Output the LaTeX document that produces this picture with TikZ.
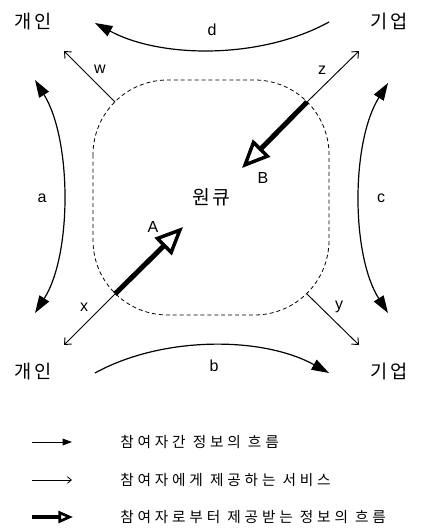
\documentclass[tikz,border=0pt]{standalone}
\usepackage{fontspec}
\setmainfont{Liberation Sans}
\newfontfamily\kr[LetterSpace=12]{Noto Sans CJK KR}
\newfontfamily\krleg[LetterSpace=26]{Noto Sans CJK KR}
\usetikzlibrary{arrows.meta}
\begin{document}
\begin{tikzpicture}[x=0.75pt,y=-0.75pt,
  lbl/.style={font=\kr\fontsize{14pt}{16pt}\selectfont, inner sep=0pt},
  ctr/.style={font=\kr\fontsize{14.5pt}{16pt}\selectfont, inner sep=0pt},
  sml/.style={font=\fontsize{12pt}{14pt}\selectfont, inner sep=0pt},
  flow/.style={line width=0.9pt, -{Triangle[length=13pt,width=8.5pt]}},
  flowtwo/.style={line width=0.9pt, {Triangle[length=13pt,width=8.5pt]}-{Triangle[length=13pt,width=8.5pt]}},
  svc/.style={line width=0.7pt, -{Straight Barb[length=4pt,width=7pt]}},
  info/.style={line width=3.75pt, -{Triangle[open,length=21pt,width=18pt,line width=2.6pt]}},
  leg/.style={font=\krleg\fontsize{11pt}{13pt}\selectfont, anchor=west, inner sep=0pt}]

\useasboundingbox (0,0) rectangle (422,530);

% corner nodes
\node[lbl] (ind1) at (33,22) {개인};
\node[lbl] (biz1) at (389,22) {기업};
\node[lbl] (ind2) at (33,372) {개인};
\node[lbl] (biz2) at (389,372) {기업};
\node[ctr] (hub) at (211,197) {원큐};

% dashed boundary
\draw[dash pattern=on 3pt off 2.2pt, line width=0.6pt, rounded corners=56pt] (93,80) rectangle (329,315);

% corner coordinates on boundary
\coordinate (cw) at (115,102);
\coordinate (cz) at (307,102);
\coordinate (cx) at (115,294);
\coordinate (cy) at (307,294);
% service tips
\coordinate (tw) at (64,51);
\coordinate (tz) at (359,51);
\coordinate (tx) at (64,345);
\coordinate (ty) at (359,345);
% info tips
\coordinate (tA) at (183,227);
\coordinate (tB) at (242,168);

% curve ends
\coordinate (dS) at (329,22);
\coordinate (dE) at (95,23);
\coordinate (bS) at (95,373);
\coordinate (bE) at (329,373);
\coordinate (aS) at (35,80);
\coordinate (aE) at (35,313);
\coordinate (cS) at (388,83);
\coordinate (cE) at (388,313);

% flows between participants
\draw[flow] (dS) .. controls (262,59) and (162,59) .. (dE);
\draw[flow] (bS) .. controls (162,336) and (262,336) .. (bE);
\draw[flowtwo] (aS) .. controls (72,140) and (72,255) .. (aE);
\draw[flowtwo] (cS) .. controls (351,142) and (351,255) .. (cE);

% services
\draw[svc] (cw) -- (tw);
\draw[svc] (cz) -- (tz);
\draw[svc] (cx) -- (tx);
\draw[svc] (cy) -- (ty);

% information flows
\draw[info] (cx) -- (tA);
\draw[info] (cz) -- (tB);

% labels
\node[sml] (la) at (42,198) {a};
\node[sml] (lb) at (214,366) {b};
\node[sml] (lc) at (381,198) {c};
\node[sml] (ld) at (212,30) {d};
\node[sml] (lw) at (100,69) {w};
\node[sml] (lz) at (322,70) {z};
\node[sml] (lx) at (84,307) {x};
\node[sml] (ly) at (339,307) {y};
\node[sml] (lA) at (153,227) {A};
\node[sml] (lB) at (263,178) {B};

% legend
\coordinate (g1s) at (32,442);
\coordinate (g1e) at (72,442);
\coordinate (g2s) at (32,480);
\coordinate (g2e) at (72,480);
\coordinate (g3s) at (32,517);
\coordinate (g3e) at (73,517);
\draw[line width=0.7pt, -{Triangle[length=7pt,width=5pt]}] (g1s) -- (g1e);
\draw[line width=0.6pt, -{Straight Barb[length=3pt,width=5pt]}] (g2s) -- (g2e);
\draw[line width=3pt, -{Triangle[open,length=11pt,width=9pt,line width=2pt]}] (g3s) -- (g3e);
\node[leg] (t1) at (120,442) {참여자간 정보의 흐름};
\node[leg] (t2) at (120,480) {참여자에게 제공하는 서비스};
\node[leg] (t3) at (120,517) {참여자로부터 제공받는 정보의 흐름};
\end{tikzpicture}
\end{document}
